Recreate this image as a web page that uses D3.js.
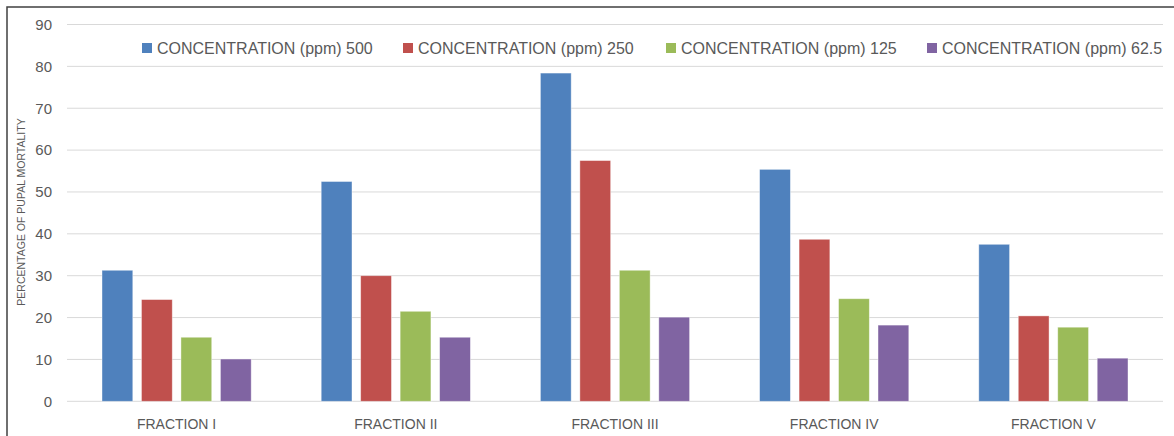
<!DOCTYPE html>
<html>
<head>
<meta charset="utf-8">
<script src="https://cdn.jsdelivr.net/npm/d3@7"></script>
<style>
  body { margin: 0; background: #fff; }
  text { font-family: "Liberation Sans", Arial, sans-serif; fill: #595959; }
</style>
</head>
<body>
<div id="chart"></div>
<script>
// данные
var fractions = ["FRACTION I", "FRACTION II", "FRACTION III", "FRACTION IV", "FRACTION V"]
var seriesNames = ["CONCENTRATION (ppm) 500", "CONCENTRATION (ppm) 250", "CONCENTRATION (ppm) 125", "CONCENTRATION (ppm) 62.5"]
var ppm500 = [31.3, 52.5, 78.4, 55.4, 37.5]
var ppm250 = [24.3, 30.0, 57.5, 38.7, 20.4]
var ppm125 = [15.3, 21.5, 31.3, 24.5, 17.7]
var ppm62 = [10.1, 15.3, 20.1, 18.2, 10.3]
var yTicks = [0, 10, 20, 30, 40, 50, 60, 70, 80, 90]
var colors = ["#4f81bd", "#c0504d", "#9bbb59", "#8064a2"]

var series = [ppm500, ppm250, ppm125, ppm62]

var W = 1174, H = 436
var plotLeft = 67, plotRight = 1163, plotTop = 24.5, plotBottom = 401.3

var svg = d3.select("#chart").append("svg")
    .attr("width", W)
    .attr("height", H)

// рамка
svg.append("rect")
    .attr("x", 7).attr("y", 7)
    .attr("width", W + 20).attr("height", H + 20)
    .attr("fill", "none")
    .attr("stroke", "#404040")
    .attr("stroke-width", 1.5)

var x0 = d3.scaleBand()
    .domain(fractions)
    .range([plotLeft, plotRight])

var x1 = d3.scaleBand()
    .domain(d3.range(series.length))
    .range([35, x0.bandwidth() - 35])
    .paddingInner(0.22)

var y = d3.scaleLinear()
    .domain([0, 90])
    .range([plotBottom, plotTop])

// сетка
svg.append("g")
    .selectAll("line")
    .data(yTicks)
    .enter().append("line")
    .attr("x1", plotLeft).attr("x2", plotRight)
    .attr("y1", function(d) { return y(d) })
    .attr("y2", function(d) { return y(d) })
    .attr("stroke", "#d9d9d9")
    .attr("stroke-width", 1)

// подписи оси Y
var yAxis = svg.append("g")
    .attr("transform", "translate(" + (plotLeft - 15) + ",0)")
    .call(d3.axisLeft(y).tickValues(yTicks).tickSize(0).tickPadding(0))
yAxis.select(".domain").remove()
yAxis.selectAll("text")
    .style("font-family", "Liberation Sans, Arial, sans-serif")
    .style("font-size", "15px")
    .attr("fill", "#595959")

// столбцы
var groups = svg.append("g")
    .selectAll("g")
    .data(fractions)
    .enter().append("g")
    .attr("transform", function(d) { return "translate(" + x0(d) + ",0)" })

groups.selectAll("rect")
    .data(function(d, i) { return series.map(function(s, k) { return {k: k, v: s[i]} }) })
    .enter().append("rect")
    .attr("x", function(d) { return x1(d.k) })
    .attr("width", x1.bandwidth())
    .attr("y", function(d) { return y(d.v) })
    .attr("height", function(d) { return y(0) - y(d.v) })
    .attr("fill", function(d) { return colors[d.k] })
    .attr("stroke", "#ffffff")
    .attr("stroke-opacity", 0.5)
    .attr("stroke-width", 0.8)

// подписи оси X
var xAxis = svg.append("g")
    .attr("transform", "translate(0," + (plotBottom + 28) + ")")
    .call(d3.axisBottom(x0).tickSize(0).tickPadding(0))
xAxis.select(".domain").remove()
xAxis.selectAll("text")
    .attr("dy", 0)
    .style("font-family", "Liberation Sans, Arial, sans-serif")
    .style("font-size", "14px")
    .attr("fill", "#595959")

// заголовок оси Y
svg.append("text")
    .attr("transform", "translate(25,212) rotate(-90)")
    .attr("text-anchor", "middle")
    .style("font-size", "10.5px")
    .text("PERCENTAGE OF PUPAL MORTALITY")

// легенда
var legendX = [142, 403, 666, 927]
var legend = svg.append("g")
    .selectAll("g")
    .data(seriesNames)
    .enter().append("g")
    .attr("transform", function(d, i) { return "translate(" + legendX[i] + ",48)" })

legend.append("rect")
    .attr("x", 0).attr("y", -5)
    .attr("width", 10).attr("height", 10)
    .attr("fill", function(d, i) { return colors[i] })

legend.append("text")
    .attr("x", 15)
    .attr("dy", "0.35em")
    .style("font-size", "16px")
    .text(function(d) { return d })
</script>
</body>
</html>
